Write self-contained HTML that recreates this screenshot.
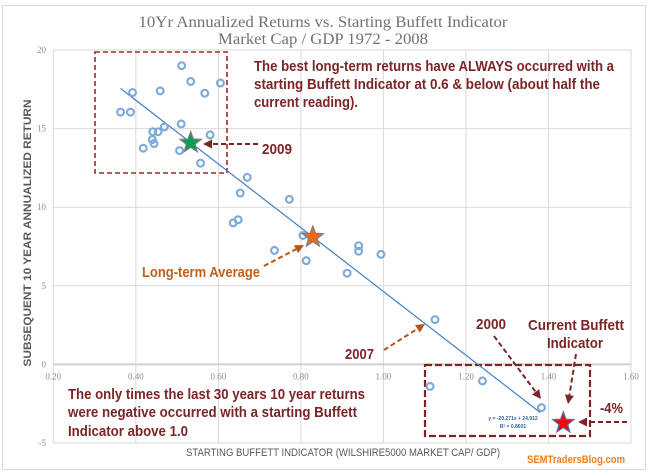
<!DOCTYPE html>
<html><head><meta charset="utf-8"><style>
html,body{margin:0;padding:0;background:#fff;width:651px;height:476px;overflow:hidden}
svg{display:block;font-family:"Liberation Sans",sans-serif}
</style></head><body>
<svg id="chart" width="651" height="476" viewBox="0 0 651 476" xmlns="http://www.w3.org/2000/svg">
<rect x="2.5" y="5.5" width="643" height="464" fill="#fff" stroke="#d9d9d9" stroke-width="1"/>
<text x="323" y="27" text-anchor="middle" font-family="Liberation Serif,serif" font-size="16" fill="#707070" textLength="369" lengthAdjust="spacingAndGlyphs">10Yr Annualized Returns vs. Starting Buffett Indicator</text>
<text x="323" y="44" text-anchor="middle" font-family="Liberation Serif,serif" font-size="16" fill="#707070" textLength="210" lengthAdjust="spacingAndGlyphs">Market Cap / GDP 1972 - 2008</text>
<g id="grid"></g>
<g id="axes"></g>
<g id="annot">
<rect x="95" y="52" width="132" height="121" fill="none" stroke="#a0282a" stroke-width="1.6" stroke-dasharray="5,3"/>
<rect x="425" y="365" width="165" height="71" fill="none" stroke="#7b2526" stroke-width="2.2" stroke-dasharray="7,3"/>
</g>
<g id="marks"></g>
<g id="labels" font-weight="bold" fill="#7b2526">
<text x="254" y="71" font-size="15" textLength="360" lengthAdjust="spacingAndGlyphs">The best long-term returns have ALWAYS occurred with a</text>
<text x="254" y="89" font-size="15" textLength="346" lengthAdjust="spacingAndGlyphs">starting Buffett Indicator at 0.6 &amp; below (about half the</text>
<text x="254" y="107" font-size="15" textLength="104" lengthAdjust="spacingAndGlyphs">current reading).</text>
<text x="262" y="154" font-size="15" textLength="30" lengthAdjust="spacingAndGlyphs">2009</text>
<text x="142" y="277" font-size="15" fill="#c0601a" textLength="118" lengthAdjust="spacingAndGlyphs">Long-term Average</text>
<text x="345" y="359" font-size="15" textLength="29" lengthAdjust="spacingAndGlyphs">2007</text>
<text x="476" y="329" font-size="15" textLength="30" lengthAdjust="spacingAndGlyphs">2000</text>
<text x="528" y="330" font-size="15" textLength="96" lengthAdjust="spacingAndGlyphs">Current Buffett</text>
<text x="547" y="348" font-size="15" textLength="56" lengthAdjust="spacingAndGlyphs">Indicator</text>
<text x="600" y="413" font-size="15" textLength="23" lengthAdjust="spacingAndGlyphs">-4%</text>
<text x="68" y="399" font-size="15" textLength="297" lengthAdjust="spacingAndGlyphs">The only times the last 30 years 10 year returns</text>
<text x="68" y="417" font-size="15" textLength="289" lengthAdjust="spacingAndGlyphs">were negative occurred with a starting Buffett</text>
<text x="68" y="436" font-size="15" textLength="120" lengthAdjust="spacingAndGlyphs">Indicator above 1.0</text>
</g>
<text x="513" y="420" text-anchor="middle" font-size="5" fill="#2e5f9a" font-weight="bold">y = -20.271x + 24.912</text>
<text x="513" y="428" text-anchor="middle" font-size="5" fill="#2e5f9a" font-weight="bold">R² = 0.8601</text>
<text x="343" y="456" text-anchor="middle" font-size="11" fill="#595959" textLength="314" lengthAdjust="spacingAndGlyphs">STARTING BUFFETT INDICATOR (WILSHIRE5000 MARKET CAP/ GDP)</text>
<text transform="translate(31,233) rotate(-90)" text-anchor="middle" font-size="11" font-weight="bold" fill="#595959" textLength="267" lengthAdjust="spacingAndGlyphs">SUBSEQUENT 10 YEAR ANNUALIZED RETURN</text>
<text x="527" y="463" font-size="11" font-weight="bold" fill="#f07d1a" textLength="98" lengthAdjust="spacingAndGlyphs">SEMTradersBlog.com</text>
</svg>
<script>
const xTicks = [0.2, 0.4, 0.6, 0.8, 1.0, 1.2, 1.4, 1.6];
const xTickLabels = ["0.20","0.40","0.60","0.80","1.00","1.20","1.40","1.60"];
const yTicks = [-5, 0, 5, 10, 15, 20];
const yTickLabels = ["-5","0","5","10","15","20"];
const pointX = [0.363,0.387,0.392,0.459,0.511,0.533,0.567,0.605,0.510,0.441,0.454,0.469,0.440,0.444,0.418,0.506,0.580,0.557,0.670,0.653,0.772,0.636,0.648,0.805,0.736,0.813,0.912,0.940,0.940,0.994,1.125,1.113,1.240,1.383];
const pointY = [16.05,16.05,17.3,17.4,19.0,18.0,17.25,17.9,15.3,14.8,14.8,15.1,14.3,14.05,13.75,13.6,14.6,12.8,11.9,10.9,10.5,9.0,9.2,8.2,7.25,6.6,5.8,7.55,7.2,7.0,2.85,-1.4,-1.05,-2.75];
const starNames = ["star-2009","star-long-term-average","star-current"];
const starX = [0.533, 0.829, 1.436];
const starY = [14.1, 8.1, -3.73];
const starFill = ["#00a050","#f06a10","#ff0000"];
const trendSlope = -20.271, trendIntercept = 24.912;
const trendRange = [0.363, 1.38];

const NS = "http://www.w3.org/2000/svg";
const X0 = 53.3, X1 = 631, Y0 = 443, Y1 = 50;
function sx(v){ return X0 + (v - 0.2) / 1.4 * (X1 - X0); }
function sy(v){ return Y0 - (v + 5) / 25 * (Y0 - Y1); }
function mk(tag, attrs, parent){ const e = document.createElementNS(NS, tag); for (const k in attrs) e.setAttribute(k, attrs[k]); parent.appendChild(e); return e; }

const grid = document.getElementById('grid');
const axes = document.getElementById('axes');
xTicks.forEach((t,i) => {
  const l = mk('line', {x1:sx(t), x2:sx(t), y1:Y1, y2:Y0, stroke:'#d9d9d9', 'stroke-width':1}, grid);
  
  
  const tx = mk('text', {x:sx(t), y:sy(0)+15, 'text-anchor':'middle', 'font-size':9, fill:'#8c8c8c', 'font-family':'Liberation Serif,serif'}, axes);
  tx.textContent = xTickLabels[i];
  
  
});
yTicks.forEach((t,i) => {
  const l = mk('line', {x1:X0, x2:X1, y1:sy(t), y2:sy(t), stroke: t===0 ? '#d0d0d0' : '#d9d9d9', 'stroke-width': t===0 ? 2 : 1}, grid);
  
  
  const tx = mk('text', {x:46, y:sy(t)+3, 'text-anchor':'end', 'font-size':9, fill:'#8c8c8c', 'font-family':'Liberation Serif,serif'}, axes);
  tx.textContent = yTickLabels[i];
  
  
});

const marks = document.getElementById('marks');
const tl = mk('line', {x1:sx(trendRange[0]), y1:sy(trendSlope*trendRange[0]+trendIntercept), x2:sx(trendRange[1]), y2:sy(trendSlope*trendRange[1]+trendIntercept), stroke:'#3f7fc6', 'stroke-width':1.2}, marks);


pointX.forEach((x,i) => {
  const c = mk('circle', {cx:sx(x), cy:sy(pointY[i]), r:3.4, fill:'none', stroke:'#80abd9', 'stroke-width':2.2}, marks);
  
  
});
function starPath(cx, cy, R, r){ let d=''; for(let k=0;k<10;k++){ const a=-Math.PI/2 + k*Math.PI/5; const rr = k%2 ? r : R; d += (k?'L':'M') + (cx+rr*Math.cos(a)).toFixed(1) + ',' + (cy+rr*Math.sin(a)).toFixed(1); } return d+'Z'; }
starX.forEach((x,i) => {
  const p = mk('path', {d:starPath(sx(x), sy(starY[i]), 11, 4.6), fill:starFill[i], stroke: i===2 ? '#5a6f9a' : '#808080', 'stroke-width':1.3}, marks);
  
  
});

const annot = document.getElementById('annot');
function arrow(name, x1, y1, x2, y2, color){
  const g = mk('g', {}, annot);
  
  
  const ang = Math.atan2(y2-y1, x2-x1), L = 9, W = 4.5;
  const bx = x2 - L*Math.cos(ang), by = y2 - L*Math.sin(ang);
  mk('line', {x1, y1, x2:bx, y2:by, stroke:color, 'stroke-width':2, 'stroke-dasharray':'5,3'}, g);
  const px = -Math.sin(ang), py = Math.cos(ang);
  mk('polygon', {points:`${x2},${y2} ${bx+px*W},${by+py*W} ${bx-px*W},${by-py*W}`, fill:color}, g);
}
arrow('arrow-2009', 258, 144, 203, 144, '#7b2526');
arrow('arrow-long-term-average', 264, 266, 304, 245, '#b4561a');
arrow('arrow-2007', 384, 350, 425, 324, '#b4561a');
arrow('arrow-2000', 494, 336, 541, 399, '#7b2526');
arrow('arrow-current-indicator', 576, 354, 568, 404, '#7b2526');
arrow('arrow-minus-4-percent', 627, 422, 578, 422, '#7b2526');
</script>
</body></html>
